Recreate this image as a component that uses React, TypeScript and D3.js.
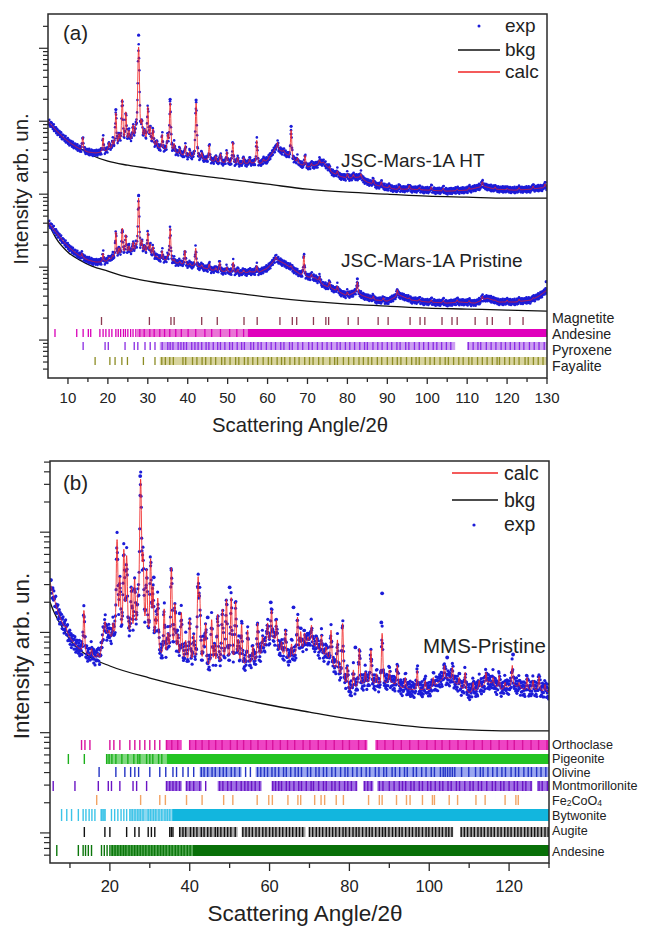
import React from "react";
import * as d3 from "d3";

type Pt = [number, number];

// ---------------- data (2θ in degrees, intensity as log10 counts) ----------------
const X_TICKS_A = [10, 20, 30, 40, 50, 60, 70, 80, 90, 100, 110, 120, 130];
const X_TICKS_B = [20, 40, 60, 80, 100, 120];
const LEGEND_A = ["exp", "bkg", "calc"];
const LEGEND_B = ["calc", "bkg", "exp"];
const SAMPLE_LABELS = ["JSC-Mars-1A HT", "JSC-Mars-1A Pristine", "MMS-Pristine"];
const PANEL_LABELS = ["(a)", "(b)"];
const X_TITLE = "Scattering Angle/2θ";
const Y_TITLE = "Intensity arb. un.";

// JSC-Mars-1A HT
const HT_BASE: Pt[] = [[5,5.000],[7,4.877],[9,4.767],[11,4.685],[13,4.616],[15,4.575],[17,4.562],[19,4.575],[21,4.616],[23,4.671],[25,4.712],[27,4.726],[29,4.712],[31,4.671],[33,4.616],[35,4.589],[37,4.562],[40,4.507],[43,4.479],[45,4.466],[47,4.438],[50,4.425],[53,4.411],[56,4.425],[58,4.411],[60,4.466],[62,4.630],[64,4.575],[66,4.493],[68,4.411],[70,4.370],[72,4.397],[74,4.438],[76,4.301],[78,4.247],[80,4.219],[83,4.233],[85,4.164],[88,4.110],[92,4.068],[96,4.068],[100,4.055],[105,4.041],[110,4.055],[114,4.110],[117,4.068],[122,4.055],[126,4.068],[130,4.096]];
const HT_BKG: Pt[] = [[5,4.986],[7,4.863],[10,4.726],[13,4.630],[16,4.534],[20,4.452],[25,4.397],[30,4.356],[40,4.274],[50,4.205],[60,4.137],[70,4.068],[80,4.027],[90,4.000],[100,3.973],[110,3.959],[120,3.945],[130,3.945]];
const HT_PEAKS: Pt[] = [[13.7,4.78],[18.8,4.77],[20.3,4.70],[21.2,4.72],[22.0,5.11],[22.8,4.80],[23.6,5.30],[24.5,5.12],[25.3,4.85],[26.3,4.92],[27.0,4.85],[27.7,6.02],[28.5,4.95],[29.2,4.85],[30.0,5.19],[30.6,4.90],[31.3,4.88],[32.2,4.72],[33.6,4.81],[35.0,4.80],[35.6,5.25],[36.6,4.68],[38.0,4.62],[39.4,4.67],[40.5,4.58],[42.1,5.25],[43.5,4.56],[45.4,4.67],[47.0,4.52],[48.2,4.55],[49.8,4.58],[51.3,4.71],[52.5,4.50],[54.0,4.50],[55.5,4.48],[57.3,4.74],[59.0,4.48],[60.5,4.52],[62.5,4.71],[64.0,4.60],[65.9,4.88],[67.5,4.50],[69.4,4.53],[71.0,4.42],[73.0,4.47],[75.5,4.38],[77.5,4.32],[80.0,4.28],[81.5,4.27],[83.4,4.28],[86.5,4.20],[88.5,4.17],[90.5,4.12],[93.0,4.11],[95.5,4.12],[98.0,4.09],[101.0,4.10],[104.0,4.08],[107.5,4.07],[110.5,4.09],[113.8,4.17],[117.0,4.10],[120.0,4.08],[123.0,4.09],[126.5,4.11],[129.5,4.14]];
const HT_OUTLIERS: Pt[] = [[27.7,6.18],[22.0,5.16],[35.6,5.30],[42.1,5.29],[65.9,4.93]];

// JSC-Mars-1A Pristine
const PR_BASE: Pt[] = [[5,3.616],[7,3.479],[9,3.342],[11,3.233],[13,3.151],[15,3.096],[17,3.068],[19,3.068],[21,3.110],[23,3.151],[25,3.192],[27,3.205],[29,3.192],[31,3.151],[33,3.110],[35,3.082],[37,3.055],[40,3.027],[43,3.000],[46,2.959],[50,2.932],[53,2.918],[56,2.932],[58,2.932],[60,2.986],[62,3.110],[64,3.055],[66,2.986],[68,2.904],[70,2.863],[72,2.849],[74,2.753],[77,2.685],[80,2.603],[82,2.658],[84,2.603],[87,2.548],[90,2.534],[93,2.616],[96,2.548],[100,2.521],[105,2.507],[108,2.521],[112,2.507],[115,2.575],[118,2.521],[122,2.521],[126,2.548],[128,2.603],[130,2.685]];
const PR_BKG: Pt[] = [[5,3.616],[7,3.397],[10,3.205],[13,3.096],[16,3.014],[20,2.945],[25,2.863],[30,2.808],[40,2.726],[50,2.658],[60,2.589],[70,2.534],[80,2.493],[90,2.466],[100,2.438],[110,2.425],[120,2.411],[130,2.397]];
const PR_PEAKS: Pt[] = [[13.5,3.19],[18.8,3.19],[20.3,3.13],[21.2,3.15],[22.0,3.48],[22.8,3.25],[23.6,3.53],[24.5,3.44],[25.3,3.28],[26.3,3.33],[27.0,3.30],[27.7,3.95],[28.5,3.35],[29.2,3.28],[30.0,3.47],[30.6,3.30],[31.3,3.28],[32.2,3.15],[33.6,3.22],[35.0,3.15],[35.6,3.53],[36.6,3.10],[38.0,3.08],[39.3,3.23],[40.5,3.05],[42.0,3.26],[43.5,3.03],[45.4,3.04],[47.0,2.99],[48.0,3.07],[49.8,3.00],[51.4,3.07],[52.5,2.97],[54.0,2.96],[55.5,2.95],[57.3,3.02],[59.0,2.96],[60.5,2.99],[62.1,3.14],[64.0,3.00],[65.9,3.02],[67.5,2.93],[69.1,3.16],[71.0,2.90],[73.0,2.87],[75.5,2.80],[77.5,2.74],[80.0,2.66],[82.5,2.80],[86.5,2.60],[89.0,2.58],[92.5,2.69],[95.5,2.58],[98.0,2.56],[101.0,2.55],[104.0,2.54],[107.5,2.55],[110.5,2.54],[113.8,2.60],[117.0,2.55],[120.0,2.55],[123.0,2.56],[126.5,2.58],[129.5,2.66]];
const PR_OUTLIERS: Pt[] = [[27.7,3.98],[129.8,2.80],[82.5,2.84]];

// MMS-Pristine
const MMS_BASE: Pt[] = [[5,4.502],[6,4.343],[7,4.203],[8,4.104],[10,3.944],[12,3.844],[14,3.775],[16,3.745],[17.5,3.735],[18.5,4.024],[19.5,3.964],[21,3.874],[25,3.874],[28,3.825],[31,3.775],[33,3.725],[36,3.745],[38,3.705],[40,3.675],[43,3.645],[46,3.625],[48,3.645],[50,3.675],[53,3.645],[55,3.675],[57,3.705],[59,3.874],[61,3.924],[63,3.775],[65,3.725],[68,3.825],[70,3.904],[72,3.825],[75,3.725],[78,3.525],[80,3.406],[83,3.476],[85,3.496],[88,3.456],[90,3.506],[93,3.446],[96,3.426],[100,3.426],[103,3.525],[105,3.545],[108,3.446],[110,3.396],[112,3.426],[115,3.506],[118,3.426],[121,3.476],[124,3.426],[127,3.426],[130,3.406]];
const MMS_BKG: Pt[] = [[5,4.303],[6,4.203],[7,4.124],[8.5,4.024],[10,3.924],[12.5,3.825],[15,3.755],[20,3.665],[30,3.545],[40,3.446],[50,3.356],[60,3.276],[70,3.206],[80,3.137],[90,3.087],[100,3.047],[110,3.027],[120,3.017],[130,3.017]];
const MMS_PEAKS: Pt[] = [[9.0,4.06],[13.5,4.22],[15.4,3.83],[17.0,3.78],[18.8,4.10],[19.8,4.00],[20.8,4.05],[21.8,4.92],[22.5,4.52],[23.5,4.82],[24.2,4.75],[25.4,4.42],[26.2,4.50],[27.0,4.20],[27.7,5.53],[28.3,4.72],[29.2,4.60],[30.2,4.72],[30.8,4.42],[31.5,4.10],[32.0,4.32],[33.6,4.22],[34.5,3.95],[35.4,4.64],[36.3,4.27],[37.0,3.95],[37.9,4.19],[39.0,3.90],[40.0,4.12],[41.0,3.95],[42.1,4.54],[42.5,4.34],[43.5,3.90],[44.0,4.07],[45.5,4.12],[46.2,3.85],[47.0,4.17],[48.2,4.22],[49.2,4.32],[50.4,4.34],[51.5,4.30],[52.2,3.90],[53.0,4.07],[54.5,4.02],[55.8,3.85],[57.0,4.09],[58.2,3.95],[59.5,4.09],[60.5,4.22],[61.7,4.12],[63.0,3.90],[64.0,4.02],[65.5,3.88],[67.0,4.15],[67.8,4.00],[68.75,3.99],[69.6,3.95],[70.5,4.07],[71.8,3.95],[73.0,3.97],[74.2,3.85],[75.4,4.02],[77.0,3.92],[78.3,4.09],[79.5,3.65],[81.0,3.62],[82.5,3.84],[84.0,3.60],[85.4,3.82],[86.8,3.58],[88.2,3.99],[90.0,3.62],[92.0,3.67],[94.0,3.55],[97.0,3.62],[99.0,3.52],[101.0,3.55],[103.8,3.67],[105.8,3.65],[107.5,3.55],[109.0,3.60],[111.0,3.50],[112.5,3.52],[114.2,3.60],[116.0,3.55],[117.5,3.57],[119.0,3.50],[120.8,3.67],[122.5,3.50],[124.5,3.55],[126.0,3.52],[127.5,3.56],[129.0,3.48]];
const MMS_OUTLIERS: Pt[] = [[27.6,5.56],[88.2,4.39],[88.0,4.10],[37.5,4.19],[31.0,4.55],[50.0,4.45],[60.3,4.30],[66.0,4.25],[81.5,3.85],[104.5,3.75],[121.0,3.78],[36.8,4.02],[44.5,4.15]];

// hand-read residual pattern (exp - calc), in units of the panel's noise level
const RESIDUALS = [0.3,-0.8,0.5,-0.2,0.9,-0.6,0.1,-0.9,0.4,0.7,-0.3,-0.5,0.8,-0.1,0.2,-0.7,0.6,-0.4,1.0,-0.9,0.3,0.0,-0.6,0.5,-0.2,0.9,-0.8,0.4,-0.3,0.7,-1.0,0.2,0.6,-0.5,0.1,-0.4,0.8];

// ---------- Bragg reflection positions (2θ) ----------
const MAGNETITE_TICKS = [18.4,30.4,35.8,36.6,43.5,47.4,54.1,57.4,63.1,66.2,67.3,71.5,74.6,75.3,80.2,82.7,87.7,90.2,95.7,98.2,99.4,103.7,106.2,107.5,112,115,116.3,120.7,124];
const ANDESINE_A_TICKS = [6.75,12.2,13.8,15.1,15.7,18.0,18.8,19.5,20.3,21.0,22.0,22.6,23.2,23.9,24.4,25.0,25.7,26.3,27.0,28.0,29.1,30.5,31.6,33.0,34.2,35.5,37.0,38.4,40.1,42.0,44.3,46.0,48.2,50.5,52.3,54.0];
const ANDESINE_A_BANDS: Pt[] = [[27.3,55]];
const ANDESINE_A_SOLID: Pt[] = [[55,130]];
const PYROXENE_TICKS = [13.8,19.3,20.1,24.3,26.6,27.5,29.3,30.6,31.8,33.6,35.0,35.6,36.3,37.6,38.3,39.0,39.7,41.0,41.8,42.6,43.5,44.6,45.3,46.4,47.5,48.2,49.3,50.5,51.2,52.4,53.5,54.2,55.8,56.5,57.6,58.4,59.7,60.9,62.0,63.3,64.1,65.5,66.2,67.6,68.8,70.3,71.2,72.5,73.7,74.9,76.0,77.4,78.2,79.5,80.6,81.8,83.1,84.3,85.0,86.4,87.6,88.7,90.0,91.1,92.4,93.2,94.6,95.4,96.8,98.0,99.1,100.3,101.5,102.4,103.6,104.8,105.9,110.3,111.5,112.7,113.4,114.8,116.0,117.2,118.5,119.6,120.8,121.9,123.1,124.2,125.6,126.8,128.0,129.3];
const PYROXENE_BANDS: Pt[] = [[33,107],[110,130]];
const FAYALITE_TICKS = [16.8,20.5,21.8,23.5,24.9,28.9,31.8,33.5,34.4,35.5,36.4,38.8,39.5,41.2,42.3,43.6,44.5,45.8,47.0,48.5,49.3,50.6,52.0,52.8,54.2,55.1,56.3,57.5,58.9,60.2,61.0,62.4,63.5,64.3,65.6,66.8,67.9,69.3,70.5,71.4,72.8,73.9,75.6,76.8,77.5,79.0,80.3,81.6,82.9,84.0,85.2,86.1,87.5,88.6,90.0,91.3,92.5,93.4,94.8,96.1,97.2,98.0,99.5,100.7,101.8,103.2,104.5,105.3,106.6,107.9,109.0,110.4,111.2,112.6,113.8,115.0,116.3,117.5,118.1,119.4,120.6,121.8,123.0,124.5,125.3,126.6,127.8,129.0];
const FAYALITE_BANDS: Pt[] = [[33,130]];

const ORTHOCLASE_TICKS = [12.9,13.75,15.0,20.0,21.0,22.5,25.0,26.25,27.5,28.75,30.0,31.25,32.5,34.2,35.5,37.0,40.0,41.5,43.1,44.8,46.5,48.1,50.2,51.9,53.5,55.3,57.1,59.2,60.8,62.7,64.5,66.3,68.4,70.1,72.2,74.1,76.2,78.3,80.0,82.3,84.0,87.0,88.9,91.0,93.0,95.1,97.3,99.4,101.5,103.2,105.1,107.2,109.3,111.2,113.3,115.4,117.5,119.6,121.3,123.4,125.5,127.4,129.5];
const ORTHOCLASE_BANDS: Pt[] = [[34.0,38.0],[39.8,84.5],[86.5,130]];
const PIGEONITE_TICKS = [9.6,13.6,19.2,19.8,20.5,21.5,23.0,24.5,26.0,27.0,27.5,29.2,30.0,30.75,32.2,33.0];
const PIGEONITE_BANDS: Pt[] = [[19,34.2]];
const PIGEONITE_SOLID: Pt[] = [[34.2,130]];
const OLIVINE_TICKS = [17.3,21.5,23.75,25.2,26.25,27.2,30.0,32.5,34.0,35.8,36.7,38.3,39.6,41.0,42.9,43.6,44.5,45.6,46.4,47.5,48.4,49.2,50.4,51.3,52.5,54.0,55.2,57.0,57.8,58.7,59.5,60.6,61.4,62.3,63.5,64.2,65.3,66.4,67.2,68.0,69.5,70.3,71.6,72.4,73.5,74.3,75.6,76.5,77.8,78.9,79.6,80.8,81.9,83.0,84.2,85.1,86.5,87.4,88.6,89.3,90.7,91.5,92.6,93.8,94.5,96.0,96.8,98.1,99.2,100.5,101.3,102.8,103.5,104.0,104.6,105.2,105.8,106.4,108.1,109.9,111.6,112.8,113.5,114.7,115.9,117.0,118.2,119.1,120.5,121.6,122.4,123.7,124.8,125.6,126.9,128.0,129.2];
const OLIVINE_BANDS: Pt[] = [[42.5,53.0],[56.5,130]];
const MONTMORILLONITE_TICKS = [5.8,11.25,17.1,19.6,20.4,22.5,25.8,26.7,29.2,34.2,35.0,35.8,36.6,37.5,39.2,40.0,41.0,42.5,44.0,47.5,48.3,49.5,50.4,51.7,52.9,53.8,54.6,55.5,56.4,57.5,60.8,61.5,62.3,63.0,64.2,65.0,66.1,67.3,68.0,69.2,70.4,71.0,72.3,73.5,74.2,75.6,76.4,77.5,78.8,79.6,80.5,81.7,83.8,84.6,85.5,87.5,88.4,90.0,91.2,92.5,93.3,94.1,95.4,96.2,97.5,98.3,99.6,100.4,101.5,102.6,103.4,104.7,105.5,106.8,107.6,108.9,110.2,111.0,112.3,113.1,114.4,115.8,116.6,117.9,118.7,120.0,121.3,122.1,123.4,124.2,125.5,127.5,128.3,129.6];
const MONTMORILLONITE_BANDS: Pt[] = [[34,38],[39,43],[47,58],[60.5,82],[83.5,86],[87,125.8],[127,130]];
const FE2COO4_TICKS = [16.7,27.7,32.5,33.9,39.2,43.1,48.5,50.8,56.9,59.8,60.7,64.6,67.1,67.8,71.3,72.9,73.8,76.7,78.5,84.8,87.5,88.2,91.8,94.3,95.2,98.3,100.8,101.3,105,107.1,111.7,114,119,121.7,122.3];
const BYTWONITE_TICKS = [7.9,9.2,10.4,12.1,13.3,14.0,14.8,15.5,16.25,17.9,18.3,18.75,20.4,21.2,22.0,22.8,23.5,24.2,25.0,25.6,26.3,27.0,27.6,28.3,29.6,30.2,30.9,31.5,32.3,33.0,33.8,34.4,35.0];
const BYTWONITE_BANDS: Pt[] = [[17.6,19.0],[25.0,35.6]];
const BYTWONITE_SOLID: Pt[] = [[35.6,130]];
const AUGITE_TICKS = [13.6,18.75,20.0,24.2,26.25,27.3,29.6,30.4,31.25,35.0,35.4,35.8,37.5,38.3,39.0,40.2,41.0,41.8,42.9,43.6,44.5,45.3,46.4,47.0,47.8,48.7,49.5,50.3,51.4,53.3,54.1,54.9,55.7,56.6,57.4,58.3,59.1,60.0,60.8,61.6,62.5,63.3,64.2,65.0,65.8,66.7,67.5,68.3,70.0,70.8,71.7,72.5,73.3,74.2,75.0,75.8,76.6,77.5,78.4,79.1,80.0,80.9,81.7,82.4,83.3,84.2,85.0,85.7,86.6,87.5,88.3,89.0,89.9,90.8,91.6,92.5,93.2,94.1,95.0,95.8,96.7,97.4,98.3,99.2,99.9,100.8,101.6,102.5,103.3,104.2,104.9,105.7,108.0,108.8,109.6,110.5,111.3,112.2,113.0,113.8,114.7,115.5,116.3,117.2,118.0,118.9,119.7,120.5,121.4,122.2,123.0,123.9,124.7,125.6,126.4,127.2,128.1,129.0,129.8];
const AUGITE_BANDS: Pt[] = [[37.3,52],[53,69],[69.8,106],[107.8,130]];
const ANDESINE_B_TICKS = [6.7,12.1,13.3,13.9,14.6,15.4,17.9,18.6,19.3,20.0,20.6,21.3,22.0,22.7,23.4,24.0,24.8,25.5,26.2,26.9,27.6,28.3,29.0,29.8,30.5,31.2,32.0,32.7,33.4,34.1,34.9,35.6,36.4,37.1,37.9,38.6,39.4,40.1];
const ANDESINE_B_BANDS: Pt[] = [[20.2,40.8]];
const ANDESINE_B_SOLID: Pt[] = [[40.8,130]];

type Phase = { name: string; ticks: number[]; bands?: Pt[]; solid?: Pt[]; color: string; light?: string; solidColor?: string; };

const PHASES_A: Phase[] = [
  { name: "Magnetite", ticks: MAGNETITE_TICKS, color: "#8b3a50" },
  { name: "Andesine", ticks: ANDESINE_A_TICKS, bands: ANDESINE_A_BANDS, solid: ANDESINE_A_SOLID, color: "#d800b8", light: "#ea74d6", solidColor: "#e000bc" },
  { name: "Pyroxene", ticks: PYROXENE_TICKS, bands: PYROXENE_BANDS, color: "#8a2be2", light: "#cc9ef2" },
  { name: "Fayalite", ticks: FAYALITE_TICKS, bands: FAYALITE_BANDS, color: "#8c8c24", light: "#d8d49e" },
];
const PHASES_B: Phase[] = [
  { name: "Orthoclase", ticks: ORTHOCLASE_TICKS, bands: ORTHOCLASE_BANDS, color: "#d8129e", light: "#ee44c4" },
  { name: "Pigeonite", ticks: PIGEONITE_TICKS, bands: PIGEONITE_BANDS, solid: PIGEONITE_SOLID, color: "#1cb01c", light: "#7ed87e", solidColor: "#22c422" },
  { name: "Olivine", ticks: OLIVINE_TICKS, bands: OLIVINE_BANDS, color: "#2434c4", light: "#9aa6f0" },
  { name: "Montmorillonite", ticks: MONTMORILLONITE_TICKS, bands: MONTMORILLONITE_BANDS, color: "#6a14c4", light: "#a070e4" },
  { name: "Fe2CoO4", ticks: FE2COO4_TICKS, color: "#f2a464" },
  { name: "Bytwonite", ticks: BYTWONITE_TICKS, bands: BYTWONITE_BANDS, solid: BYTWONITE_SOLID, color: "#3cc4e8", light: "#8cd8f0", solidColor: "#12b6de" },
  { name: "Augite", ticks: AUGITE_TICKS, bands: AUGITE_BANDS, color: "#111111", light: "#a8a8a8" },
  { name: "Andesine", ticks: ANDESINE_B_TICKS, bands: ANDESINE_B_BANDS, solid: ANDESINE_B_SOLID, color: "#0b760b", light: "#4ea64e", solidColor: "#087008" },
];

// ---------------- helpers ----------------
function makeProfile(base: Pt[], peaks: Pt[], fwhm: number) {
  const bs = d3.scaleLinear().domain(base.map(d => d[0])).range(base.map(d => d[1])).clamp(true);
  const amps = peaks.map(([p, top]) => [p, Math.max(0, Math.pow(10, top) - Math.pow(10, bs(p)))]);
  return (x: number) => {
    let s = Math.pow(10, bs(x));
    for (const [p, a] of amps) {
      const d = ((x - p) / fwhm) * 2;
      const d2 = d * d;
      if (d2 > 40000) continue;
      s += a * (0.4 / (1 + d2) + 0.6 * Math.exp(-Math.LN2 * d2));
    }
    return s;
  };
}

const FONT = "'Liberation Sans', Arial, Helvetica, sans-serif";

type Box = { l: number; r: number; t: number; b: number };

function Pattern({ x, y, base, bkg, peaks, outliers, noise, r, fwhm, clipId }: any) {
  const prof = makeProfile(base, peaks, fwhm);
  const xsLine = d3.range(5, 130.0001, 0.04);
  const calc = xsLine.map(t => [t, prof(t)] as Pt);
  const xsDots = d3.range(5, 130.0001, 0.08);
  const dots = xsDots.map((t, i) => [t, prof(t) * Math.pow(10, noise * RESIDUALS[i % RESIDUALS.length])] as Pt);
  const lineGen = d3.line<Pt>().x(d => x(d[0])).y(d => y(d[1]));
  const bkgGen = d3.line<Pt>().x(d => x(d[0])).y(d => y(Math.pow(10, d[1]))).curve(d3.curveMonotoneX);
  return (
    <g clipPath={`url(#${clipId})`}>
      <path d={bkgGen(bkg) || ""} fill="none" stroke="#111" strokeWidth={1.3} />
      {dots.map((d, i) => (
        <circle key={i} cx={x(d[0])} cy={y(d[1])} r={r} fill="#1c1cd8" />
      ))}
      {outliers.map((d: Pt, i: number) => (
        <circle key={"o" + i} cx={x(d[0])} cy={y(Math.pow(10, d[1]))} r={r + 0.3} fill="#1c1cd8" />
      ))}
      <path d={lineGen(calc) || ""} fill="none" stroke="#f02424" strokeWidth={1} strokeOpacity={0.85} />
    </g>
  );
}

function PhaseRow({ phase, x, y0, y1, tickW }: { phase: Phase; x: any; y0: number; y1: number; tickW: number }) {
  return (
    <g>
      {(phase.bands || []).map((b, i) => (
        <rect key={"b" + i} x={x(b[0])} y={y0} width={x(b[1]) - x(b[0])} height={y1 - y0} fill={phase.light} />
      ))}
      {(phase.solid || []).map((b, i) => (
        <rect key={"s" + i} x={x(b[0])} y={y0} width={x(b[1]) - x(b[0])} height={y1 - y0} fill={phase.solidColor} />
      ))}
      {phase.ticks.map((t, i) => (
        <rect key={i} x={x(t) - tickW / 2} y={y0} width={tickW} height={y1 - y0} fill={phase.color} />
      ))}
    </g>
  );
}

function Axes({ box, x, y, xTicks, xMinor, fs, majorLen, minorLen, yMajor, yMinor, labelY }: any) {
  const yt = y.ticks();
  return (
    <g>
      <rect x={box.l} y={box.t} width={box.r - box.l} height={box.b - box.t} fill="none" stroke="#2a2a2a" strokeWidth={1.5} />
      {xMinor.map((t: number) => (
        <line key={"xm" + t} x1={x(t)} x2={x(t)} y1={box.b} y2={box.b + minorLen} stroke="#2a2a2a" strokeWidth={1.3} />
      ))}
      {xTicks.map((t: number) => (
        <g key={"x" + t}>
          <line x1={x(t)} x2={x(t)} y1={box.b} y2={box.b + majorLen} stroke="#2a2a2a" strokeWidth={1.3} />
          <text x={x(t)} y={labelY} textAnchor="middle" fontSize={fs} fontFamily={FONT} fill="#222">{t}</text>
        </g>
      ))}
      {yt.map((v: number, i: number) => {
        const lg = Math.log10(v);
        const major = Math.abs(lg - Math.round(lg)) < 1e-6;
        const yy = y(v);
        if (yy < box.t - 0.5 || yy > box.b + 0.5) return null;
        return <line key={"y" + i} x1={box.l - (major ? yMajor : yMinor)} x2={box.l} y1={yy} y2={yy} stroke="#2a2a2a" strokeWidth={1.2} />;
      })}
    </g>
  );
}

export default function App() {
  const A: Box = { l: 48, r: 547, t: 14, b: 378 };
  const B: Box = { l: 50, r: 549, t: 461, b: 863 };

  const xA = d3.scaleLinear().domain([5, 130]).range([A.l, A.r]);
  const yA = d3.scaleLog().domain([Math.pow(10, 1.48), Math.pow(10, 6.47)]).range([A.b, A.t]);
  const xB = d3.scaleLinear().domain([5, 130]).range([B.l, B.r]);
  const yB = d3.scaleLog().domain([Math.pow(10, 1.7), Math.pow(10, 5.71)]).range([B.b, B.t]);

  const xMinorA = [15, 25, 35, 45, 55, 65, 75, 85, 95, 105, 115, 125];
  const xMinorB = [10, 30, 50, 70, 90, 110, 130];

  const rowsA = [[317, 325, 323], [329, 337, 339], [342, 350, 354.5], [357, 365, 370.5]];
  const rowsB = [[740, 750, 749], [754, 764, 762.5], [767, 777, 776.5], [781, 791, 790], [795, 805, 804.5], [809, 821, 820], [827, 837, 835], [845, 856, 856]];

  return (
    <svg width={650} height={928} style={{ position: "absolute", left: 0, top: 0, background: "#fff" }} fontFamily={FONT}>
      <defs>
        <clipPath id="clipA"><rect x={A.l} y={A.t} width={A.r - A.l} height={A.b - A.t} /></clipPath>
        <clipPath id="clipB"><rect x={B.l} y={B.t} width={B.r - B.l} height={B.b - B.t} /></clipPath>
      </defs>

      {/* ---------- Panel (a) ---------- */}
      <Pattern x={xA} y={yA} base={HT_BASE} bkg={HT_BKG} peaks={HT_PEAKS} outliers={HT_OUTLIERS} noise={0.045} r={1.3} fwhm={0.32} clipId="clipA" />
      <Pattern x={xA} y={yA} base={PR_BASE} bkg={PR_BKG} peaks={PR_PEAKS} outliers={PR_OUTLIERS} noise={0.045} r={1.3} fwhm={0.32} clipId="clipA" />
      {PHASES_A.map((p, i) => (
        <PhaseRow key={i} phase={p} x={xA} y0={rowsA[i][0]} y1={rowsA[i][1]} tickW={1.3} />
      ))}
      <Axes box={A} x={xA} y={yA} xTicks={X_TICKS_A} xMinor={xMinorA} fs={15} majorLen={6} minorLen={4} yMajor={9} yMinor={5} labelY={403} />
      {PHASES_A.map((p, i) => (
        <text key={"la" + i} x={552} y={rowsA[i][2]} fontSize={14.2} fill="#222">{p.name}</text>
      ))}
      <text x={63} y={40} fontSize={20.5} fill="#222">{PANEL_LABELS[0]}</text>
      <text x={341} y={167} fontSize={19} fill="#222">{SAMPLE_LABELS[0]}</text>
      <text x={341} y={267} fontSize={19} fill="#222">{SAMPLE_LABELS[1]}</text>
      {/* legend a */}
      <circle cx={479} cy={26} r={1.5} fill="#1c1cd8" />
      <text x={505} y={32} fontSize={19} fill="#222">{LEGEND_A[0]}</text>
      <line x1={458} x2={500} y1={50} y2={50} stroke="#111" strokeWidth={1.3} />
      <text x={505} y={56} fontSize={19} fill="#222">{LEGEND_A[1]}</text>
      <line x1={458} x2={500} y1={72} y2={72} stroke="#f02424" strokeWidth={1.3} />
      <text x={505} y={78} fontSize={19} fill="#222">{LEGEND_A[2]}</text>
      <text x={300} y={432} textAnchor="middle" fontSize={20.3} fill="#222">{X_TITLE}</text>
      <text transform="translate(28,189) rotate(-90)" textAnchor="middle" fontSize={20.5} fill="#222">{Y_TITLE}</text>

      {/* ---------- Panel (b) ---------- */}
      <Pattern x={xB} y={yB} base={MMS_BASE} bkg={MMS_BKG} peaks={MMS_PEAKS} outliers={MMS_OUTLIERS} noise={0.08} r={1.6} fwhm={0.34} clipId="clipB" />
      {PHASES_B.map((p, i) => (
        <PhaseRow key={i} phase={p} x={xB} y0={rowsB[i][0]} y1={rowsB[i][1]} tickW={1.4} />
      ))}
      <Axes box={B} x={xB} y={yB} xTicks={X_TICKS_B} xMinor={xMinorB} fs={16.5} majorLen={8} minorLen={5} yMajor={10} yMinor={6} labelY={892} />
      {PHASES_B.map((p, i) =>
        p.name === "Fe2CoO4" ? (
          <text key={"lb" + i} x={552} y={rowsB[i][2]} fontSize={12.6} fill="#222">
            Fe<tspan fontSize={8.5} dy={1.5}>2</tspan><tspan dy={-1.5}>CoO</tspan><tspan fontSize={8.5} dy={1.5}>4</tspan>
          </text>
        ) : (
          <text key={"lb" + i} x={552} y={rowsB[i][2]} fontSize={12.6} fill="#222">{p.name}</text>
        )
      )}
      <text x={63} y={490} fontSize={20.5} fill="#222">{PANEL_LABELS[1]}</text>
      <text x={423} y={653} fontSize={20.5} fill="#222">{SAMPLE_LABELS[2]}</text>
      {/* legend b */}
      <line x1={452} x2={498} y1={473} y2={473} stroke="#f02424" strokeWidth={1.3} />
      <text x={504} y={480} fontSize={19.5} fill="#222">{LEGEND_B[0]}</text>
      <line x1={452} x2={498} y1={500} y2={500} stroke="#111" strokeWidth={1.3} />
      <text x={504} y={507} fontSize={19.5} fill="#222">{LEGEND_B[1]}</text>
      <circle cx={474} cy={525} r={1.6} fill="#1c1cd8" />
      <text x={504} y={531} fontSize={19.5} fill="#222">{LEGEND_B[2]}</text>
      <text x={305} y={921} textAnchor="middle" fontSize={22.5} fill="#222">{X_TITLE}</text>
      <text transform="translate(29,656) rotate(-90)" textAnchor="middle" fontSize={22.5} fill="#222">{Y_TITLE}</text>
    </svg>
  );
}
